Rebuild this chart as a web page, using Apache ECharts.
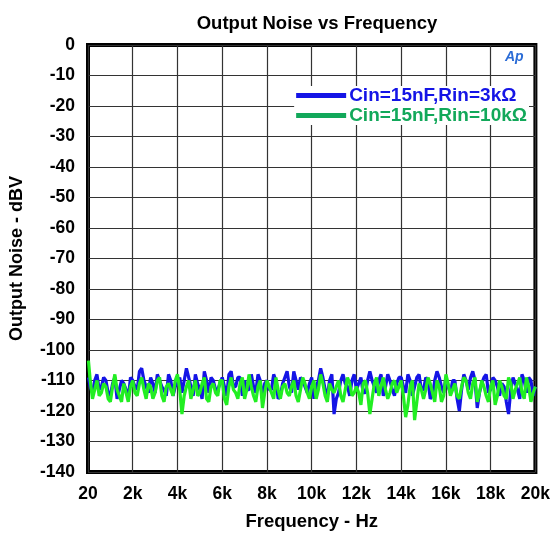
<!DOCTYPE html>
<html>
<head>
<meta charset="utf-8">
<script src="https://cdn.jsdelivr.net/npm/echarts@6/dist/echarts.min.js"></script>
<style>
  html, body { margin: 0; padding: 0; background: #fff; }
  #main { width: 553px; height: 536px; }
</style>
</head>
<body>
<div id="main"></div>
<script>
// frequency points (Hz)
var freqs = [20, 100, 200, 300, 400, 500, 600, 700, 800, 900,
  1000, 1100, 1200, 1300, 1400, 1500, 1600, 1700, 1800, 1900,
  2000, 2100, 2200, 2300, 2400, 2500, 2600, 2700, 2800, 2900,
  3000, 3100, 3200, 3300, 3400, 3500, 3600, 3700, 3800, 3900,
  4000, 4100, 4200, 4300, 4400, 4500, 4600, 4700, 4800, 4900,
  5000, 5100, 5200, 5300, 5400, 5500, 5600, 5700, 5800, 5900,
  6000, 6100, 6200, 6300, 6400, 6500, 6600, 6700, 6800, 6900,
  7000, 7100, 7200, 7300, 7400, 7500, 7600, 7700, 7800, 7900,
  8000, 8100, 8200, 8300, 8400, 8500, 8600, 8700, 8800, 8900,
  9000, 9100, 9200, 9300, 9400, 9500, 9600, 9700, 9800, 9900,
  10000, 10100, 10200, 10300, 10400, 10500, 10600, 10700, 10800, 10900,
  11000, 11100, 11200, 11300, 11400, 11500, 11600, 11700, 11800, 11900,
  12000, 12100, 12200, 12300, 12400, 12500, 12600, 12700, 12800, 12900,
  13000, 13100, 13200, 13300, 13400, 13500, 13600, 13700, 13800, 13900,
  14000, 14100, 14200, 14300, 14400, 14500, 14600, 14700, 14800, 14900,
  15000, 15100, 15200, 15300, 15400, 15500, 15600, 15700, 15800, 15900,
  16000, 16100, 16200, 16300, 16400, 16500, 16600, 16700, 16800, 16900,
  17000, 17100, 17200, 17300, 17400, 17500, 17600, 17700, 17800, 17900,
  18000, 18100, 18200, 18300, 18400, 18500, 18600, 18700, 18800, 18900,
  19000, 19100, 19200, 19300, 19400, 19500, 19600, 19700, 19800, 19900,
  20000];

// Cin=15nF,Rin=3kΩ  (dBV)
var noise3k = [-109, -112, -114, -110, -108, -113, -112, -109, -110, -114,
  -115, -111, -109, -116, -113, -110, -111, -113, -116, -109,
  -110, -112, -113, -107, -106, -110, -112, -114, -109, -111,
  -114, -108, -110, -112, -113, -115, -108, -110, -115, -112,
  -111, -109, -114, -110, -106, -109, -112, -115, -108, -111,
  -113, -116, -107, -110, -114, -109, -110, -113, -113, -111,
  -109, -112, -115, -108, -107, -112, -112, -109, -109, -115,
  -110, -113, -113, -108, -112, -114, -108, -110, -116, -111,
  -110, -113, -113, -108, -110, -116, -115, -111, -109, -107,
  -112, -114, -107, -110, -113, -109, -110, -112, -114, -111,
  -109, -116, -112, -110, -106, -109, -113, -115, -110, -108,
  -121, -116, -114, -110, -108, -111, -112, -115, -110, -108,
  -113, -111, -109, -114, -114, -110, -107, -110, -112, -114,
  -110, -108, -115, -112, -108, -110, -113, -115, -111, -109,
  -109, -112, -114, -108, -110, -115, -112, -109, -108, -113,
  -113, -109, -110, -116, -115, -110, -107, -109, -112, -114,
  -109, -112, -114, -110, -110, -116, -120, -113, -108, -110,
  -113, -109, -107, -110, -119, -114, -111, -109, -108, -114,
  -113, -109, -110, -112, -115, -111, -112, -117, -121, -113,
  -109, -111, -113, -116, -108, -110, -114, -109, -110, -115,
  -112];

// Cin=15nF,Rin=10kΩ  (dBV)
var noise10k = [-103.5, -110, -116, -113, -110, -115, -114, -111, -112, -116,
  -117, -112, -108, -113, -115, -117, -111, -114, -117, -112,
  -110, -114, -115, -111, -109, -113, -116, -111, -112, -116,
  -114, -110, -109, -115, -117, -112, -111, -113, -115, -110,
  -108, -113, -121, -115, -112, -110, -116, -113, -110, -115,
  -114, -111, -109, -116, -117, -112, -111, -114, -115, -110,
  -110, -116, -118, -112, -109, -113, -114, -116, -111, -109,
  -116, -113, -108, -112, -115, -117, -112, -110, -119, -114,
  -110, -112, -114, -116, -109, -113, -116, -112, -111, -114,
  -115, -112, -110, -115, -117, -113, -109, -111, -114, -116,
  -112, -110, -116, -113, -108, -111, -115, -117, -111, -113,
  -114, -112, -110, -115, -117, -113, -109, -111, -115, -114,
  -112, -114, -118, -111, -110, -114, -121, -116, -111, -109,
  -115, -112, -109, -113, -116, -114, -111, -110, -114, -112,
  -110, -115, -122, -118, -112, -110, -123, -117, -111, -113,
  -116, -113, -109, -111, -114, -117, -110, -112, -117, -115,
  -108, -111, -115, -113, -111, -115, -116, -112, -109, -110,
  -114, -116, -111, -109, -117, -114, -110, -112, -115, -117,
  -112, -110, -118, -115, -110, -112, -115, -116, -109, -111,
  -116, -113, -111, -109, -114, -116, -109, -112, -117, -114,
  -112];

var seriesNames = ['Cin=15nF,Rin=3kΩ', 'Cin=15nF,Rin=10kΩ'];

function pairs(ys) {
  return ys.map(function (y, i) { return [freqs[i], y]; });
}

var font = '"Liberation Sans", Arial, sans-serif';
var chart = echarts.init(document.getElementById('main'));

chart.setOption({
  animation: false,
  backgroundColor: '#fff',
  title: {
    text: 'Output Noise vs Frequency',
    left: 312,
    textAlign: 'center',
    top: 9,
    textStyle: { fontFamily: font, fontSize: 18.5, fontWeight: 'bold', color: '#000' }
  },
  grid: {
    left: 87, right: 15, top: 45, bottom: 63,
    show: true, borderColor: '#000', borderWidth: 4, backgroundColor: '#fff'
  },
  legend: {
    right: 24, top: 86,
    orient: 'vertical',
    itemGap: 1,
    itemWidth: 50, itemHeight: 5,
    icon: 'rect',
    backgroundColor: '#fff',
    padding: [0, 2, 0, 2],
    data: [
      { name: seriesNames[0], itemStyle: { color: '#1414e6' },
        textStyle: { color: '#1414e6' } },
      { name: seriesNames[1], itemStyle: { color: '#12a85a' },
        textStyle: { color: '#12a85a' } }
    ],
    textStyle: { fontFamily: font, fontSize: 19, fontWeight: 'bold', padding: [0, 0, 0, -2] }
  },
  xAxis: {
    type: 'value', min: 0, max: 20000, interval: 2000,
    name: 'Frequency - Hz', nameLocation: 'middle', nameGap: 40,
    nameTextStyle: { fontFamily: font, fontSize: 18.5, fontWeight: 'bold', color: '#000' },
    axisLine: { show: false }, axisTick: { show: false },
    axisLabel: {
      margin: 13, color: '#000', fontFamily: font, fontSize: 17.5, fontWeight: 'bold',
      formatter: function (v) { return v === 0 ? '20' : (v / 1000) + 'k'; }
    },
    splitLine: { show: true, lineStyle: { color: '#333', width: 1.2 } }
  },
  yAxis: {
    type: 'value', min: -140, max: 0, interval: 10,
    name: 'Output Noise - dBV', nameLocation: 'middle', nameGap: 62,
    nameTextStyle: { fontFamily: font, fontSize: 18, fontWeight: 'bold', color: '#000' },
    axisLine: { show: false }, axisTick: { show: false },
    axisLabel: { margin: 13, color: '#000', fontFamily: font, fontSize: 17.5, fontWeight: 'bold' },
    splitLine: { show: true, lineStyle: { color: '#333', width: 1.2 } }
  },
  graphic: [{
    type: 'text', left: 505, top: 50, z: 10,
    style: { text: 'Ap', font: 'italic bold 14px ' + font, fill: '#2b6cd6' }
  }],
  series: [
    {
      name: seriesNames[0], type: 'line', data: pairs(noise3k),
      symbol: 'none', lineStyle: { color: '#1414e6', width: 3.2 }, itemStyle: { color: '#1414e6' }
    },
    {
      name: seriesNames[1], type: 'line', data: pairs(noise10k),
      symbol: 'none', lineStyle: { color: '#22ee22', width: 3.2 }, itemStyle: { color: '#22ee22' }
    }
  ]
});
</script>
</body>
</html>
